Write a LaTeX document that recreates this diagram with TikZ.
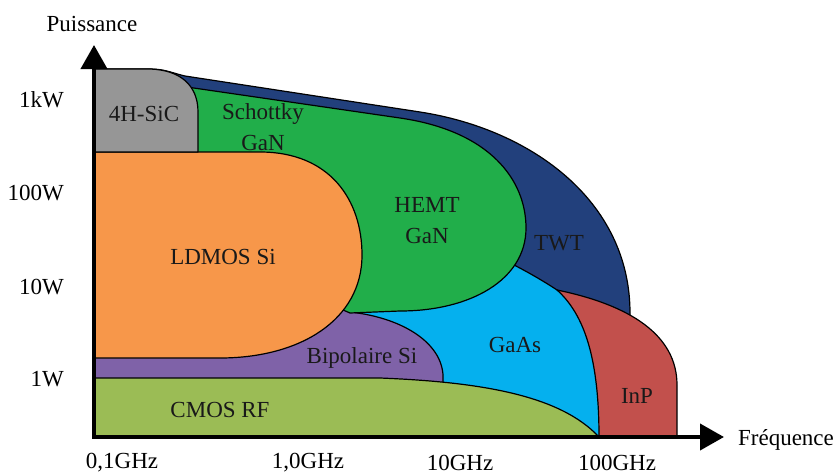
\documentclass[tikz,border=0pt]{standalone}
\usepackage{fontspec}
\setmainfont{Liberation Serif}
\newfontfamily\tnr{Liberation Serif}
\usetikzlibrary{arrows.meta}
\definecolor{cTWT}{HTML}{22407C}
\definecolor{cGaN}{HTML}{21AE4A}
\definecolor{cGaAs}{HTML}{05B0EE}
\definecolor{cPurple}{HTML}{7F62A8}
\definecolor{cCMOS}{HTML}{9BBC55}
\definecolor{cInP}{HTML}{C2504C}
\definecolor{cOrange}{HTML}{F7974A}
\definecolor{cGray}{HTML}{969696}
\begin{document}
\begin{tikzpicture}[x=1pt,y=-1pt,
  region/.style={draw=black, line width=1.2pt, line join=round},
  lbl/.style={font=\tnr\fontsize{23}{31}\selectfont, text=black!90, align=center, inner sep=0pt},
  axislbl/.style={font=\tnr\fontsize{23}{26}\selectfont, text=black, inner sep=0pt},
  axis/.style={line width=4pt, line join=miter, {Triangle[length=24pt,width=26pt]}-{Triangle[length=24pt,width=26pt]}}]
\useasboundingbox (0,0) rectangle (835,474);
% TWT
\filldraw[region, fill=cTWT] (94,437) -- (94,69) -- (150,69) .. controls (165,69) and (172,73) .. (185,76) -- (420,112) .. controls (530,129) and (630,200) .. (630,313) -- (630,437) -- cycle;
% GaAs
\filldraw[region, fill=cGaAs] (330,437) -- (330,300) -- (500,258) .. controls (525,270) and (545,282) .. (557,290) -- (595,306) -- (640,437) -- cycle;
% Bipolaire Si
\filldraw[region, fill=cPurple] (94,400) -- (94,330) -- (340,300) -- (350,312) .. controls (405,318) and (445,345) .. (443,380) -- (443,400) -- cycle;
% CMOS RF
\filldraw[region, fill=cCMOS] (94,437) -- (94,378) -- (380,378) .. controls (480,382) and (560,395) .. (599,437) -- cycle;
% GaN
\filldraw[region, fill=cGaN] (180,86) -- (400,118) .. controls (490,131) and (526,180) .. (526,228) .. controls (526,280) and (470,311) .. (400,311) -- (350,313) -- (320,300) -- (180,150) -- cycle;
% InP
\filldraw[region, fill=cInP] (599,437) .. controls (599,360) and (585,315) .. (557,290) .. controls (630,305) and (677,335) .. (677,385) -- (677,437) -- cycle;
% LDMOS
\filldraw[region, fill=cOrange] (94,358) -- (94,152) -- (260,152) .. controls (330,152) and (362,200) .. (362,255) .. controls (362,320) and (300,358) .. (220,358) -- cycle;
% 4H-SiC
\filldraw[region, fill=cGray] (94,152) -- (94,69) -- (150,69) .. controls (180,70) and (198,85) .. (198,112) -- (198,152) -- cycle;
% axes
\coordinate (ytip) at (94,45);
\coordinate (O) at (94,437);
\coordinate (xtip) at (724,437);
\draw[axis] (ytip) -- (O) -- (xtip);
% region labels
\node[lbl] (sic) at (144,114) {4H-SiC};
\node[lbl] (schottky) at (263,127) {Schottky\\GaN};
\node[lbl] (hemt) at (427,221) {HEMT\\GaN};
\node[lbl] (ldmos) at (223,257) {LDMOS Si};
\node[lbl] (twt) at (559,243) {TWT};
\node[lbl] (gaas) at (515,345) {GaAs};
\node[lbl] (bip) at (362,358) {Bipolaire Si};
\node[lbl] (cmos) at (220,410) {CMOS RF};
\node[lbl] (inp) at (637,396) {InP};
% axis labels
\node[axislbl] (puiss) at (92,24) {Puissance};
\node[axislbl] (freq) at (786,440) {Fréquence};
\node[axislbl, anchor=east] (p1k) at (64,100) {1kW};
\node[axislbl, anchor=east] (p100) at (64,193) {100W};
\node[axislbl, anchor=east] (p10) at (64,287) {10W};
\node[axislbl, anchor=east] (p1) at (64,379) {1W};
\node[axislbl] (f01) at (122,463) {0,1GHz};
\node[axislbl] (f1) at (308,463) {1,0GHz};
\node[axislbl] (f10) at (460,463) {10GHz};
\node[axislbl] (f100) at (617,463) {100GHz};
\end{tikzpicture}
\end{document}
